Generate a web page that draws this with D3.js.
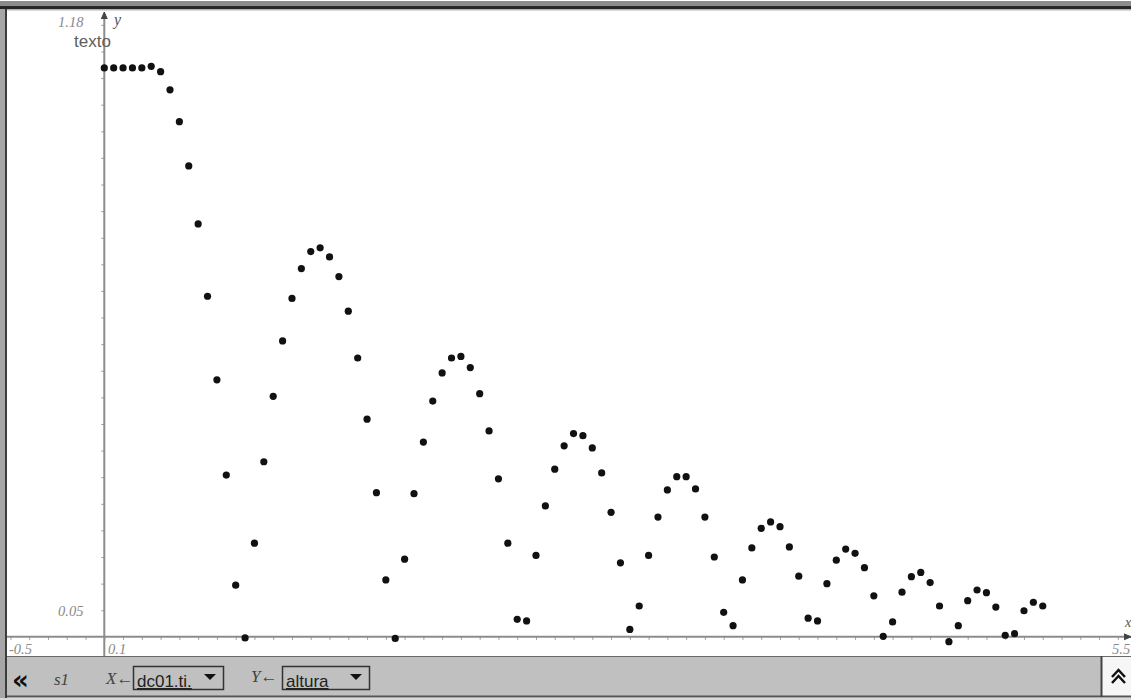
<!DOCTYPE html>
<html>
<head>
<meta charset="utf-8">
<script src="https://cdn.jsdelivr.net/npm/d3@7"></script>
<style>
  body { margin: 0; background: #fff; }
  svg { display: block; }
</style>
</head>
<body>
<svg id="graph" width="1131" height="700"></svg>
<script>
// tiempo (s) de cada muestra
const tiempo = [
  0.00, 0.05, 0.10, 0.15, 0.20, 0.25, 0.30, 0.35, 0.40, 0.45,
  0.50, 0.55, 0.60, 0.65, 0.70, 0.75, 0.80, 0.85, 0.90, 0.95,
  1.00, 1.05, 1.10, 1.15, 1.20, 1.25, 1.30, 1.35, 1.40, 1.45,
  1.50, 1.55, 1.60, 1.65, 1.70, 1.75, 1.80, 1.85, 1.90, 1.95,
  2.00, 2.05, 2.10, 2.15, 2.20, 2.25, 2.30, 2.35, 2.40, 2.45,
  2.50, 2.55, 2.60, 2.65, 2.70, 2.75, 2.80, 2.85, 2.90, 2.95,
  3.00, 3.05, 3.10, 3.15, 3.20, 3.25, 3.30, 3.35, 3.40, 3.45,
  3.50, 3.55, 3.60, 3.65, 3.70, 3.75, 3.80, 3.85, 3.90, 3.95,
  4.00, 4.05, 4.10, 4.15, 4.20, 4.25, 4.30, 4.35, 4.40, 4.45,
  4.50, 4.55, 4.60, 4.65, 4.70, 4.75, 4.80, 4.85, 4.90, 4.95,
  5.00
]

// altura (m)
const altura = [
  1.069, 1.069, 1.069, 1.069, 1.069, 1.072, 1.062, 1.028, 0.968, 0.885,
  0.776, 0.640, 0.483, 0.304, 0.097, -0.002, 0.176, 0.329, 0.452, 0.556,
  0.636, 0.692, 0.724, 0.731, 0.714, 0.677, 0.612, 0.524, 0.409, 0.271,
  0.107, -0.003, 0.146, 0.269, 0.366, 0.443, 0.496, 0.524, 0.527, 0.506,
  0.457, 0.387, 0.297, 0.176, 0.033, 0.030, 0.153, 0.246, 0.315, 0.359,
  0.382, 0.378, 0.355, 0.308, 0.234, 0.139, 0.014, 0.058, 0.153, 0.225,
  0.276, 0.301, 0.301, 0.278, 0.225, 0.150, 0.046, 0.021, 0.107, 0.167,
  0.204, 0.216, 0.207, 0.169, 0.114, 0.035, 0.030, 0.100, 0.144, 0.165,
  0.157, 0.130, 0.077, 0.001, 0.028, 0.084, 0.113, 0.121, 0.102, 0.058,
  -0.009, 0.021, 0.068, 0.088, 0.083, 0.056, 0.003, 0.006, 0.049, 0.065,
  0.058
]

// ventana de la grafica
const xWindow = [-0.5, 5.5]
const yWindow = [-0.036, 1.18]
const xTickStep = 0.1
const yTickStep = 0.05

// textos
const xMinLabel = '-0.5'
const xMaxLabel = '5.5'
const xFirstTickLabel = '0.1'
const yMaxLabel = '1.18'
const yFirstTickLabel = '0.05'
const plotTitle = 'texto'
const varLabels = ['x', 'y']
const problemLabel = 's1'
const xVarName = 'dc01.ti.'
const yVarName = 'altura'

const svg = d3.select('#graph')
const serif = "'Liberation Serif', 'DejaVu Serif', serif"
const sans = "'Liberation Sans', Arial, sans-serif"

const x = d3.scaleLinear().domain(xWindow).range([10.45, 1136.6])
const y = d3.scaleLinear().domain(yWindow).range([656, 8.9])

svg.append('defs').append('clipPath').attr('id', 'plot-clip')
  .append('rect').attr('x', 7).attr('y', 10).attr('width', 1124).attr('height', 646)

const plot = svg.append('g').attr('clip-path', 'url(#plot-clip)')

// ticks del eje x (cada 0.1)
const xTickVals = d3.range(Math.round(xWindow[0] / xTickStep), Math.round(xWindow[1] / xTickStep) + 1)
  .map(i => i * xTickStep)
const xAxis = plot.append('g')
  .attr('transform', `translate(0,${y(0)})`)
  .call(d3.axisBottom(x).tickValues(xTickVals).tickSize(3).tickFormat(''))
xAxis.select('.domain').remove()
xAxis.selectAll('line').attr('stroke', '#9a9a9a')

// ticks del eje y (cada 0.05)
const yTickVals = d3.range(1, Math.floor(yWindow[1] / yTickStep) + 1).map(i => i * yTickStep)
const yAxis = plot.append('g')
  .attr('transform', `translate(${x(0)},0)`)
  .call(d3.axisLeft(y).tickValues(yTickVals).tickSize(3).tickFormat(''))
yAxis.select('.domain').remove()
yAxis.selectAll('line').attr('stroke', '#9a9a9a')

// ejes
plot.append('line')
  .attr('x1', 7).attr('x2', 1131).attr('y1', y(0)).attr('y2', y(0))
  .attr('stroke', '#8c8c8c').attr('stroke-width', 2)
plot.append('line')
  .attr('x1', x(0)).attr('x2', x(0)).attr('y1', 16).attr('y2', 656)
  .attr('stroke', '#8c8c8c').attr('stroke-width', 2)

// flechas de los ejes
plot.append('path')
  .attr('d', d3.line()([[x(0) - 3, 19], [x(0), 12], [x(0) + 3, 19]]))
  .attr('fill', '#444').attr('stroke', '#444')
plot.append('path')
  .attr('d', d3.line()([[1124, y(0) - 3], [1131, y(0)], [1124, y(0) + 3]]))
  .attr('fill', '#444').attr('stroke', '#444')

// etiquetas de la ventana
const winLabel = (txt, px, py) => svg.append('text')
  .attr('x', px).attr('y', py)
  .attr('font-family', serif).attr('font-style', 'italic')
  .attr('font-size', 14.5).attr('fill', '#8a8a8a')
  .text(txt)

winLabel(yMaxLabel, 58, 27)
winLabel(yFirstTickLabel, 58, 616)
winLabel(xMinLabel, 9, 654)
winLabel(xFirstTickLabel, 108, 654)
winLabel(xMaxLabel, 1112, 654)

svg.append('text').attr('x', 114).attr('y', 25)
  .attr('font-family', serif).attr('font-style', 'italic')
  .attr('font-size', 16).attr('fill', '#555').text(varLabels[1])
svg.append('text').attr('x', 1125).attr('y', 627)
  .attr('font-family', serif).attr('font-style', 'italic')
  .attr('font-size', 14).attr('fill', '#555').text(varLabels[0])

svg.append('text').attr('x', 74).attr('y', 47)
  .attr('font-family', sans).attr('font-size', 17).attr('fill', '#5e5e5e')
  .text(plotTitle)

// puntos
plot.selectAll('.punto')
  .data(d3.zip(tiempo, altura))
  .enter()
  .append('circle')
  .attr('class', 'punto')
  .attr('cx', d => x(d[0]))
  .attr('cy', d => y(d[1]))
  .attr('r', 3.6)
  .attr('fill', '#111')

// marco superior e izquierdo
svg.append('rect').attr('x', 0).attr('y', 1).attr('width', 1131).attr('height', 5).attr('fill', '#8c8c8c')
svg.append('rect').attr('x', 0).attr('y', 6).attr('width', 1131).attr('height', 3).attr('fill', '#262626')
svg.append('rect').attr('x', 0).attr('y', 9).attr('width', 1131).attr('height', 1.5).attr('fill', '#b4b4b4')
svg.append('rect').attr('x', 0).attr('y', 9).attr('width', 5).attr('height', 691).attr('fill', '#a6a6a6')
svg.append('rect').attr('x', 5).attr('y', 9).attr('width', 2).attr('height', 691).attr('fill', '#3c3c3c')

// barra inferior
const bar = svg.append('g')
bar.append('rect').attr('x', 7).attr('y', 656).attr('width', 1095).attr('height', 41).attr('fill', '#c0c0c0')
bar.append('rect').attr('x', 1102).attr('y', 656).attr('width', 29).attr('height', 41).attr('fill', '#f6f6f6')
bar.append('line').attr('x1', 7).attr('x2', 1131).attr('y1', 656.5).attr('y2', 656.5).attr('stroke', '#6a6a6a')
bar.append('line').attr('x1', 7).attr('x2', 1131).attr('y1', 696.5).attr('y2', 696.5).attr('stroke', '#555').attr('stroke-width', 2)
bar.append('line').attr('x1', 1101.5).attr('x2', 1101.5).attr('y1', 656).attr('y2', 697).attr('stroke', '#444').attr('stroke-width', 2)
bar.append('rect').attr('x', 0).attr('y', 698).attr('width', 1131).attr('height', 2).attr('fill', '#d8d8d8')

bar.append('text').attr('x', 12).attr('y', 689)
  .attr('font-family', "'DejaVu Sans', sans-serif").attr('font-weight', 'bold')
  .attr('font-size', 26).attr('fill', '#111').text('«')
bar.append('text').attr('x', 54).attr('y', 685)
  .attr('font-family', serif).attr('font-style', 'italic')
  .attr('font-size', 17).attr('fill', '#444').text(problemLabel)
bar.append('text').attr('x', 106).attr('y', 684)
  .attr('font-family', serif).attr('font-style', 'italic')
  .attr('font-size', 17).attr('fill', '#444').text('X←')
bar.append('text').attr('x', 251).attr('y', 682)
  .attr('font-family', serif).attr('font-style', 'italic')
  .attr('font-size', 17).attr('fill', '#444').text('Y←')

// listas desplegables
const dropdown = (px, w, txt) => {
  bar.append('rect').attr('x', px + 0.5).attr('y', 666.5).attr('width', w).attr('height', 23)
    .attr('fill', 'none').attr('stroke', '#333').attr('stroke-width', 1.5)
  bar.append('text').attr('x', px + 4).attr('y', 687)
    .attr('font-family', sans).attr('font-size', 17).attr('fill', '#222')
    .attr('text-decoration', 'underline').text(txt)
  const tx = px + w - 13
  bar.append('path')
    .attr('d', d3.line()([[tx - 6, 674], [tx + 6, 674], [tx, 680]]) + 'Z')
    .attr('fill', '#111')
}
dropdown(133, 90, xVarName)
dropdown(282, 87, yVarName)

// boton de expandir
bar.append('path')
  .attr('d', d3.line()([[1112, 677], [1118.5, 670], [1125, 677]]) + d3.line()([[1112, 683], [1118.5, 676], [1125, 683]]))
  .attr('fill', 'none').attr('stroke', '#111').attr('stroke-width', 2.5)
</script>
</body>
</html>
